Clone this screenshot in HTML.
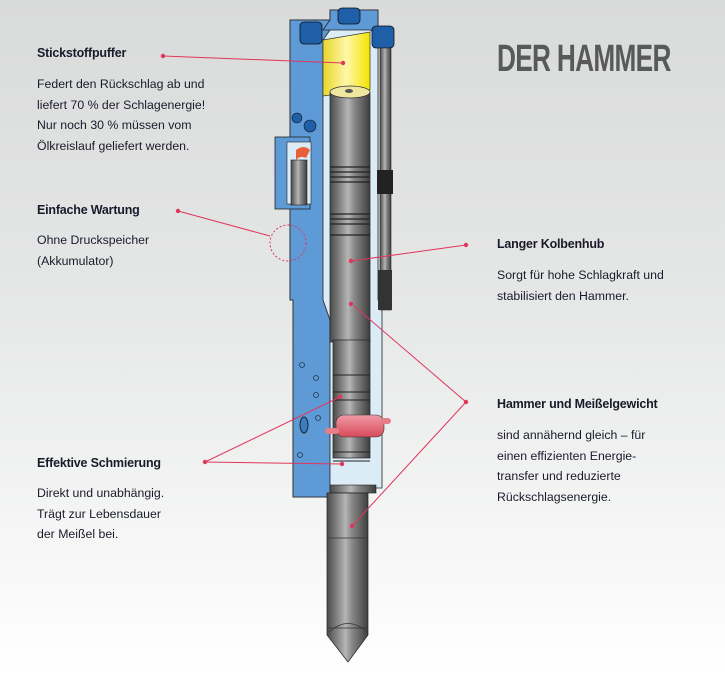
<!DOCTYPE html>
<html><head><meta charset="utf-8"><style>
html,body{margin:0;padding:0}
body{width:725px;height:677px;position:relative;overflow:hidden;background:linear-gradient(#d9dada 0%,#e6e7e7 45%,#ffffff 100%);font-family:"Liberation Sans",sans-serif;color:#1a1a2a}
.t{position:absolute;font-size:12.3px;line-height:20.5px;white-space:nowrap}
.h{position:absolute;font-size:12.5px;font-weight:bold;white-space:nowrap;letter-spacing:-0.2px}
.title{position:absolute;left:497px;top:40px;font-family:"Liberation Sans",sans-serif;font-weight:bold;font-size:38px;color:#58595b;transform:scaleX(0.69);transform-origin:left;white-space:nowrap;line-height:38px;letter-spacing:-1px}
svg{position:absolute;left:0;top:0}
</style></head><body>
<svg width="725" height="677" viewBox="0 0 725 677">
<defs>
<linearGradient id="g" x1="0" x2="1"><stop offset="0" stop-color="#4a4a4a"/><stop offset="0.45" stop-color="#b5b5b5"/><stop offset="0.6" stop-color="#8a8a8a"/><stop offset="1" stop-color="#3e3e3e"/></linearGradient>
<linearGradient id="y" x1="0" x2="1"><stop offset="0" stop-color="#e8d62a"/><stop offset="0.5" stop-color="#fff7a8"/><stop offset="1" stop-color="#f2e400"/></linearGradient>
<linearGradient id="r" x1="0" x2="0" y1="0" y2="1"><stop offset="0" stop-color="#f19aa6"/><stop offset="1" stop-color="#d64a5a"/></linearGradient>
</defs>
<polygon points="290,20 330,20 330,10 378,10 378,300 382,300 382,488 330,488 330,497 293,497 293,300 290,300" fill="#dcecf7" stroke="#222" stroke-width="0.8"/>
<polygon points="290,20 330,20 330,30 323,40 323,300 330,320 330,497 293,497 293,300 290,300" fill="#5e9bd6" stroke="#222" stroke-width="0.8"/>
<polygon points="330,10 378,10 378,35 370,30 323,30 330,20" fill="#5e9bd6" stroke="#222" stroke-width="0.8"/>
<rect x="300" y="22" width="22" height="22" rx="4" fill="#1f5fa8" stroke="#111" stroke-width="0.8"/>
<rect x="338" y="8" width="22" height="16" rx="4" fill="#1f5fa8" stroke="#111" stroke-width="0.8"/>
<rect x="372" y="26" width="22" height="22" rx="4" fill="#1f5fa8" stroke="#111" stroke-width="0.8"/>
<rect x="380" y="48" width="11" height="262" fill="url(#g)" stroke="#222" stroke-width="0.6"/>
<rect x="377" y="170" width="16" height="24" fill="#222"/>
<rect x="378" y="270" width="14" height="40" fill="#333"/>
<path d="M323,40 L370,32 L370,90 L323,96 Z" fill="url(#y)" stroke="#333" stroke-width="0.7"/>
<rect x="330" y="92" width="40" height="250" fill="url(#g)" stroke="#222" stroke-width="0.7"/>
<ellipse cx="350" cy="92" rx="20" ry="6" fill="#efe6a0" stroke="#333" stroke-width="0.7"/>
<ellipse cx="349" cy="91" rx="4" ry="2" fill="#555"/>
<g stroke="#222" stroke-width="1.2" fill="none">
<path d="M330,167 H370 M330,172 H370 M330,177 H370 M330,182 H370 M330,214 H370 M330,219 H370 M330,224 H370 M330,235 H370"/>
</g>
<rect x="275" y="137" width="35" height="72" fill="#5e9bd6" stroke="#222" stroke-width="0.8"/>
<rect x="287" y="142" width="24" height="62" fill="#dcecf7" stroke="#222" stroke-width="0.6"/>
<path d="M296,150 q8,-6 14,0 l-4,8 q-6,-3 -10,2 z" fill="#e8603a"/>
<rect x="291" y="160" width="16" height="45" fill="url(#g)" stroke="#222" stroke-width="0.6"/>
<circle cx="297" cy="118" r="5" fill="#1f5fa8" stroke="#111" stroke-width="0.6"/>
<circle cx="310" cy="126" r="6" fill="#1f5fa8" stroke="#111" stroke-width="0.6"/>
<rect x="333" y="340" width="37" height="118" fill="url(#g)" stroke="#222" stroke-width="0.7"/>
<path d="M333,375 H370 M333,392 H370 M333,400 H370 M333,452 H370 M333,461 H370" stroke="#222" stroke-width="1"/>
<ellipse cx="304" cy="425" rx="4" ry="8" fill="#3a7dc4" stroke="#222"/>
<g fill="none" stroke="#234" stroke-width="0.8"><circle cx="302" cy="365" r="2.5"/><circle cx="316" cy="378" r="2.5"/><circle cx="316" cy="395" r="2.5"/><circle cx="300" cy="455" r="2.5"/><circle cx="318" cy="418" r="2.5"/></g>
<rect x="336" y="415" width="48" height="22" rx="8" fill="url(#r)" stroke="#333" stroke-width="0.6"/>
<rect x="325" y="428" width="14" height="6" rx="3" fill="#e87d8a"/>
<rect x="381" y="418" width="10" height="6" rx="3" fill="#e87d8a"/>
<rect x="330" y="485" width="46" height="8" fill="url(#g)" stroke="#222" stroke-width="0.6"/>
<path d="M327,493 H368 V635 L348,662 L327,635 Z" fill="url(#g)" stroke="#222" stroke-width="0.7"/>
<path d="M327,538 H368 M327,628 H368 M329,632 Q348,615 367,632" stroke="#333" stroke-width="0.8" fill="none"/>
<g stroke="#e0365c" stroke-width="1" fill="none">
<line x1="163" y1="56" x2="343" y2="63"/>
<line x1="178" y1="211" x2="270" y2="236"/>
<circle cx="288" cy="243" r="18" stroke-dasharray="2,2"/>
<line x1="466" y1="245" x2="351" y2="261"/>
<line x1="466" y1="402" x2="354" y2="306"/>
<line x1="466" y1="402" x2="352" y2="526"/>
<line x1="205" y1="462" x2="340" y2="397"/>
<line x1="205" y1="462" x2="342" y2="464"/>
</g>
<g fill="#e0365c">
<circle cx="163" cy="56" r="2.2"/><circle cx="343" cy="63" r="2.2"/><circle cx="178" cy="211" r="2.2"/>
<circle cx="466" cy="245" r="2.2"/><circle cx="351" cy="261" r="2.2"/><circle cx="466" cy="402" r="2.2"/>
<circle cx="351" cy="304" r="2.2"/><circle cx="352" cy="526" r="2.2"/><circle cx="205" cy="462" r="2.2"/>
<circle cx="340" cy="397" r="2.2"/><circle cx="342" cy="464" r="2.2"/>
</g>
</svg>
<div class="title">DER HAMMER</div>
<div class="h" style="left:37px;top:46px">Stickstoffpuffer</div>
<div class="t" style="left:37px;top:74px">Federt den Rückschlag ab und<br>liefert 70 % der Schlagenergie!<br>Nur noch 30 % müssen vom<br>Ölkreislauf geliefert werden.</div>
<div class="h" style="left:37px;top:203px">Einfache Wartung</div>
<div class="t" style="left:37px;top:230px">Ohne Druckspeicher<br>(Akkumulator)</div>
<div class="h" style="left:497px;top:237px">Langer Kolbenhub</div>
<div class="t" style="left:497px;top:265px">Sorgt für hohe Schlagkraft und<br>stabilisiert den Hammer.</div>
<div class="h" style="left:497px;top:397px">Hammer und Meißelgewicht</div>
<div class="t" style="left:497px;top:425px">sind annähernd gleich – für<br>einen effizienten Energie-<br>transfer und reduzierte<br>Rückschlagsenergie.</div>
<div class="h" style="left:37px;top:456px">Effektive Schmierung</div>
<div class="t" style="left:37px;top:483px">Direkt und unabhängig.<br>Trägt zur Lebensdauer<br>der Meißel bei.</div>
</body></html>
